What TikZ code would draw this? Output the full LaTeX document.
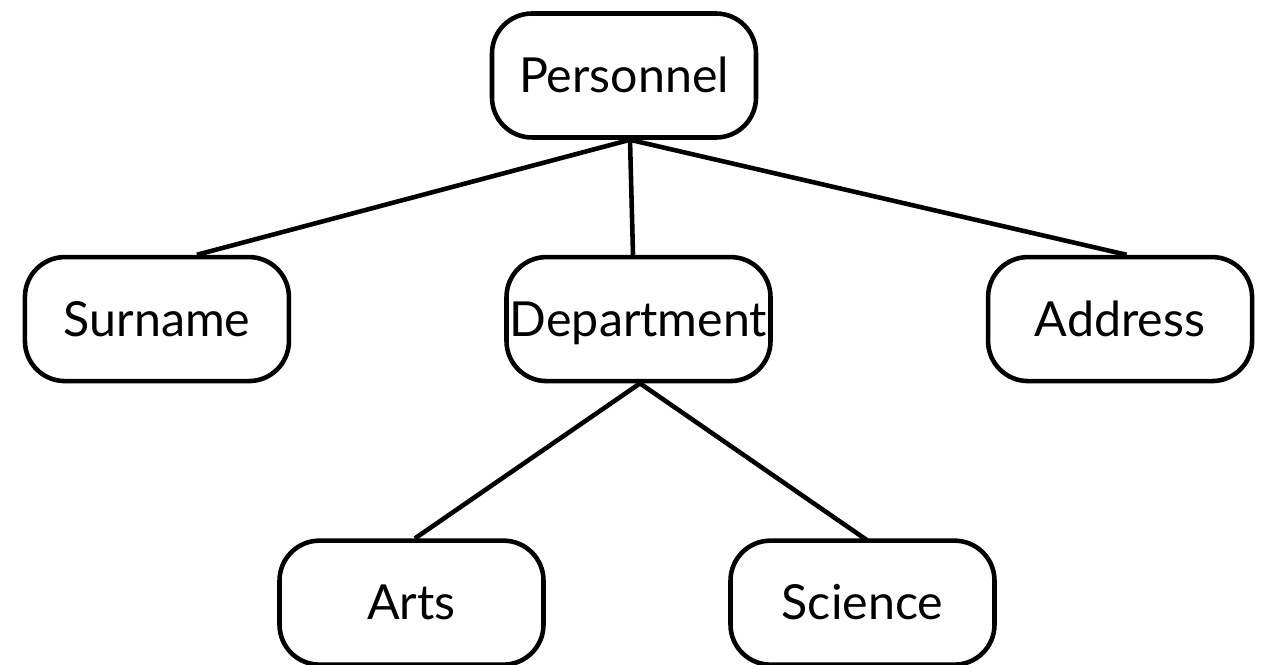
\documentclass[tikz,border=0pt]{standalone}
\usepackage{fontspec}
\setmainfont{Lato}
\usepackage{tikz}
\usetikzlibrary{positioning}

\begin{document}
\begin{tikzpicture}[
    entity/.style={draw=black, line width=2.6pt, rounded corners=0.8cm, minimum width=5.28cm, minimum height=2.48cm, inner sep=0pt, text height=19.5pt, text depth=0pt, fill=white, font=\fontsize{27.5}{32}\selectfont},
    link/.style={line width=2.6pt, draw=black}
]
    % page size
    \useasboundingbox (0,0) rectangle (25.24,-13.28);

    % Top level
    \node[entity] (personnel) at (12.48,-1.51) {Personnel};

    % Second level
    \node[entity, below=2.3cm of personnel, xshift=0.29cm] (department) {Department};
    \node[entity, left=4.26cm of department] (surname) {Surname};
    \node[entity, right=4.26cm of department] (address) {Address};

    % Third level
    \node[entity, below=3.1cm of department, xshift=-4.54cm] (arts) {Arts};
    \node[entity, below=3.1cm of department, xshift=4.48cm] (science) {Science};

    % Tree edges
    \draw[link] ([xshift=0.12cm]personnel.south) -- ([xshift=0.8cm]surname.north);
    \draw[link] ([xshift=0.12cm]personnel.south) -- ([xshift=-0.11cm]department.north);
    \draw[link] ([xshift=0.12cm]personnel.south) -- ([xshift=0.13cm]address.north);
    \draw[link] ([xshift=0.03cm]department.south) -- ([xshift=0.07cm]arts.north);
    \draw[link] ([xshift=0.03cm]department.south) -- ([xshift=0.11cm,yshift=-0.05cm]science.north);

\end{tikzpicture}
\end{document}
